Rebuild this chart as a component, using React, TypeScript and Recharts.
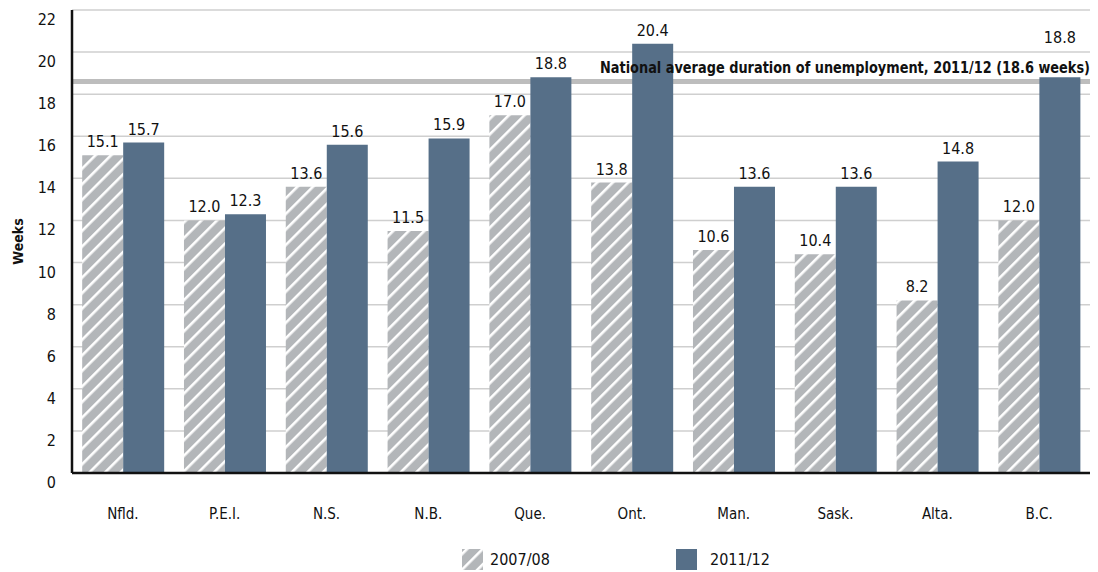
import { Bar, BarChart, CartesianGrid, LabelList, Legend, ReferenceLine, XAxis, YAxis } from "recharts";

const provinces = ["Nfld.", "P.E.I.", "N.S.", "N.B.", "Que.", "Ont.", "Man.", "Sask.", "Alta.", "B.C."];
const weeks0708 = [15.1, 12.0, 13.6, 11.5, 17.0, 13.8, 10.6, 10.4, 8.2, 12.0];
const weeks1112 = [15.7, 12.3, 15.6, 15.9, 18.8, 20.4, 13.6, 13.6, 14.8, 18.8];
const yTicks = [0, 2, 4, 6, 8, 10, 12, 14, 16, 18, 20, 22];
const nationalAverage = 18.6;
// labels pushed up so they clear the average note
const raisedLabels = ["B.C."];

const data = provinces.map((name, i) => ({
  name,
  a: weeks0708[i],
  b: weeks1112[i],
}));

const FONT = "'DejaVu Sans Condensed', 'Liberation Sans Narrow', sans-serif";
const BLUE = "#566f88";
const GREY = "#b3b6b9";

const YTick = (props: any) => {
  const { x, y, payload } = props;
  return (
    <text x={x} y={y + 15} textAnchor="end" fontSize={16} fill="#111" fontFamily={FONT}>
      {payload.value}
    </text>
  );
};

const XTick = (props: any) => {
  const { x, y, payload } = props;
  return (
    <text x={x} y={y + 38} textAnchor="middle" fontSize={15} fill="#111" fontFamily={FONT}>
      {payload.value}
    </text>
  );
};

const AvgLabel = (props: any) => {
  const { viewBox } = props;
  return (
    <text
      x={viewBox.x + viewBox.width - 490}
      y={viewBox.y - 9}
      textAnchor="start"
      fontSize={15.5}
      fontWeight="bold"
      fill="#111"
      fontFamily={FONT}
      textLength={490}
      lengthAdjust="spacingAndGlyphs"
    >
      National average duration of unemployment, 2011/12 (18.6 weeks)
    </text>
  );
};

const BarValue = (props: any) => {
  const { x, y, width, value, index } = props;
  const lift = raisedLabels.includes(provinces[index]) ? 26 : 0;
  return (
    <text x={x + width / 2} y={y - 8 - lift} textAnchor="middle" fontSize={16} fill="#111" fontFamily={FONT}>
      {Number(value).toFixed(1)}
    </text>
  );
};

const BarValueA = (props: any) => {
  const { x, y, width, value } = props;
  return (
    <text x={x + width / 2} y={y - 8} textAnchor="middle" fontSize={16} fill="#111" fontFamily={FONT}>
      {Number(value).toFixed(1)}
    </text>
  );
};

const LegendBox = () => (
  <div style={{ position: "relative", height: 40 }}>
    <svg width={1098} height={40} style={{ position: "absolute", left: 0, top: 0 }}>
      <rect x={462} y={17} width={21} height={21} fill="url(#hatch)" />
      <text x={490} y={33} fontSize={16} fontFamily={FONT} fill="#111">
        2007/08
      </text>
      <rect x={676} y={17} width={21} height={21} fill={BLUE} />
      <text x={710} y={33} fontSize={16} fontFamily={FONT} fill="#111">
        2011/12
      </text>
    </svg>
  </div>
);

export default function App() {
  return (
    <div style={{ position: "absolute", left: 0, top: 0, width: 1098, height: 572, background: "#fff" }}>
      <BarChart
        width={1098}
        height={572}
        data={data}
        margin={{ top: 10, right: 8, bottom: 0, left: 0 }}
        barCategoryGap="10%"
        barGap={0}
      >
        <defs>
          <pattern id="hatch" patternUnits="userSpaceOnUse" width={11} height={11} patternTransform="rotate(45)">
            <rect x={0} y={0} width={11} height={11} fill={GREY} />
            <rect x={0} y={0} width={2.6} height={11} fill="#fff" />
          </pattern>
        </defs>
        <CartesianGrid vertical={false} stroke="#cfcfcf" strokeWidth={1.5} />
        <CartesianGrid vertical={false} horizontalValues={[nationalAverage]} stroke="#bdbdbd" strokeWidth={5} />
        <XAxis
          dataKey="name"
          axisLine={{ stroke: "#111", strokeWidth: 2.5 }}
          tickLine={false}
          tick={<XTick />}
          height={59}
          interval={0}
        />
        <YAxis
          domain={[0, 22]}
          ticks={yTicks}
          width={72}
          axisLine={{ stroke: "#111", strokeWidth: 2.5 }}
          tickLine={false}
          tick={<YTick />}
          tickSize={0}
          tickMargin={16}
          label={{
            value: "Weeks",
            angle: -90,
            position: "insideLeft",
            offset: 18,
            style: { fontFamily: FONT, fontWeight: "bold", fontSize: 14, fill: "#111", textAnchor: "middle" },
          }}
        />
        <Legend verticalAlign="bottom" height={40} content={<LegendBox />} />
        <Bar dataKey="a" fill="url(#hatch)" isAnimationActive={false}>
          <LabelList dataKey="a" content={<BarValueA />} />
        </Bar>
        <Bar dataKey="b" fill={BLUE} isAnimationActive={false}>
          <LabelList dataKey="b" content={<BarValue />} />
        </Bar>
        <ReferenceLine y={nationalAverage} stroke="none" label={<AvgLabel />} />
      </BarChart>
    </div>
  );
}
